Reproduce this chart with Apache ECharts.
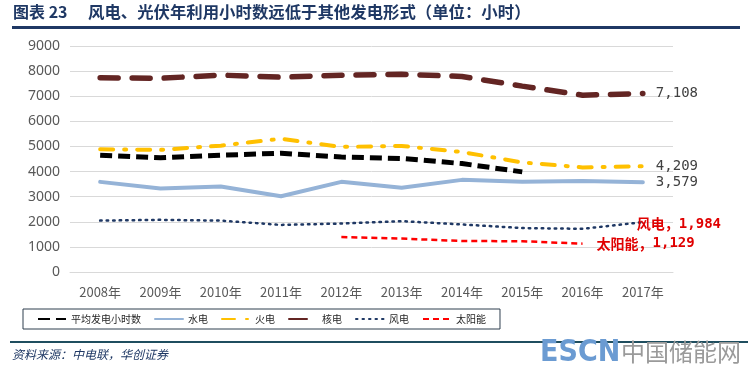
<!DOCTYPE html>
<html><head><meta charset="utf-8">
<script src="https://cdn.jsdelivr.net/npm/echarts@6/dist/echarts.min.js"></script>
<style>html,body{margin:0;padding:0;background:#fff}#c{width:748px;height:370px}</style>
</head><body><div id="c"></div>
<script>
var years = ['2008年','2009年','2010年','2011年','2012年','2013年','2014年','2015年','2016年','2017年'];
var avgHours = [4648, 4546, 4650, 4730, 4579, 4521, 4318, 3988, null, null];
var hydro = [3589, 3328, 3404, 3019, 3591, 3359, 3669, 3590, 3621, 3579];
var thermal = [4885, 4865, 5031, 5305, 4982, 5021, 4778, 4364, 4165, 4209];
var nuclear = [7731, 7716, 7840, 7759, 7838, 7874, 7787, 7403, 7042, 7108];
var wind = [2046, 2077, 2047, 1875, 1929, 2025, 1893, 1750, 1720, 1984];
var solar = [null, null, null, null, 1390, 1330, 1235, 1225, 1129, null];
var seriesNames = ['平均发电小时数','水电','火电','核电','风电','太阳能'];
var yTicks = [0, 9000, 1000];

var chart = echarts.init(document.getElementById('c'));
var numFont = "'DejaVu Sans Mono', monospace";
var cjkFont = "'Noto Sans CJK SC', sans-serif";
function fmt(v){ return v.toLocaleString('en-US'); }
function lineSeries(name, data, color, width, type, cap, endLabel){
  var s = {
    name: name, type: 'line', data: data, symbol: 'none', showSymbol: false, connectNulls: false,
    lineStyle: {color: color, width: width, type: type, cap: cap || 'butt'},
    itemStyle: {color: color},
    emphasis: {disabled: true}, animation: false
  };
  if (endLabel) s.endLabel = endLabel;
  return s;
}
var numLabel = {show: true, formatter: function(p){return fmt(p.value);}, distance: 13, color: '#404040', fontSize: 14, fontFamily: numFont};
function redLabel(prefix, dist, off){
  return {show: true, distance: dist, offset: off,
    formatter: function(p){return '{a|' + prefix + '}{b|' + fmt(p.value) + '}';},
    rich: {
      a: {color: '#e00000', fontSize: 14, fontWeight: 'bold', fontFamily: cjkFont},
      b: {color: '#e00000', fontSize: 14, fontWeight: 'bold', fontFamily: numFont}
    }};
}
chart.setOption({
  animation: false,
  grid: {left: 70, right: 75, top: 46, bottom: 98},
  xAxis: {
    type: 'category', data: years, boundaryGap: true,
    axisLine: {show: true, lineStyle: {color: '#d9d9d9'}},
    axisTick: {show: false},
    axisLabel: {color: '#595959', fontSize: 13, margin: 14, fontFamily: cjkFont}
  },
  yAxis: {
    type: 'value', min: yTicks[0], max: yTicks[1], interval: yTicks[2],
    axisLine: {show: false}, axisTick: {show: false},
    axisLabel: {color: '#595959', fontSize: 14, margin: 10, fontFamily: "'Noto Sans', sans-serif", formatter: function(v){return String(v);}},
    splitLine: {lineStyle: {color: '#d9d9d9'}}
  },
  legend: {
    left: 23, top: 309, padding: [5, 14], itemGap: 13, itemWidth: 28, itemHeight: 10,
    borderColor: '#2f3f4f', borderWidth: 1,
    itemStyle: {opacity: 0},
    textStyle: {fontSize: 10, color: '#262626', fontFamily: cjkFont},
    data: seriesNames
  },
  series: [
    lineSeries(seriesNames[0], avgHours, '#000000', 5, [12, 6]),
    lineSeries(seriesNames[1], hydro, '#95b3d7', 4, 'solid', 'round', numLabel),
    lineSeries(seriesNames[2], thermal, '#ffc000', 4, [13, 11, 2, 11], 'round', numLabel),
    lineSeries(seriesNames[3], nuclear, '#632523', 5.5, [18, 14], 'round', numLabel),
    lineSeries(seriesNames[4], wind, '#1f3864', 2.5, [1.5, 5], 'round', redLabel('风电，', 0, [-6, 2])),
    lineSeries(seriesNames[5], solar, '#ff0000', 2.5, [6, 4], 'butt', redLabel('太阳能，', 14, [0, 0]))
  ],
  graphic: [
    {type: 'text', left: 13, top: 4, style: {text: '图表 23', fill: '#1f3864', font: "bold 16px 'Noto Sans CJK SC', sans-serif"}},
    {type: 'text', left: 88, top: 4, style: {text: '风电、光伏年利用小时数远低于其他发电形式（单位：小时）', fill: '#1f3864', font: "bold 16.4px 'Noto Sans CJK SC', sans-serif"}},
    {type: 'rect', shape: {x: 12, y: 26, width: 728, height: 3}, style: {fill: '#1f3864'}},
    {type: 'rect', shape: {x: 10, y: 341, width: 738, height: 2}, style: {fill: '#1f4e5f'}},
    {type: 'text', left: 12, top: 348, style: {text: '资料来源：中电联，华创证券', fill: '#1f3864', font: "italic 12px 'Noto Sans CJK SC', sans-serif"}},
    {type: 'text', left: 540, top: 338, z: 100, style: {text: 'ESCN', fill: '#6b9bd2', font: "bold 30px 'Liberation Sans Narrow', 'DejaVu Sans Condensed', sans-serif"}},
    {type: 'text', left: 621, top: 340, z: 100, style: {text: '中国储能网', fill: '#9a9a9a', font: "24px 'Noto Sans CJK SC', sans-serif"}}
  ]
});
</script></body></html>
